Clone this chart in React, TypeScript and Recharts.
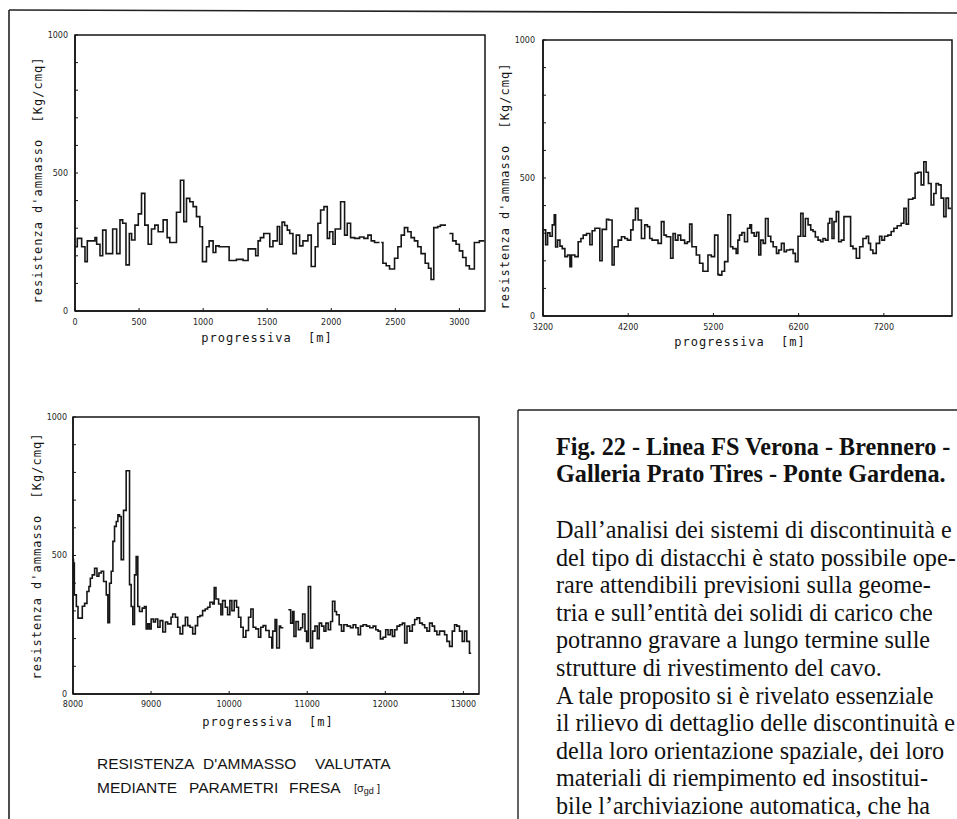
import React from 'react';
import { LineChart, Line, XAxis, YAxis, ReferenceArea } from 'recharts';

// ── Data (progressiva [m] where each step starts, resistenza [Kg/cmq]) ─────────

const prog1 = [
  0, 18, 52, 78, 96, 156, 169, 195, 216, 242,
  294, 325, 351, 372, 398, 424, 442, 468, 494, 519,
  545, 571, 597, 623, 649, 688, 719, 740, 792, 823,
  849, 870, 896, 922, 948, 974, 995, 1026, 1047, 1078,
  1099, 1125, 1203, 1260, 1312, 1351, 1410, 1429, 1447, 1473,
  1520, 1545, 1579, 1597, 1616, 1636, 1657, 1676, 1701, 1727,
  1753, 1779, 1818, 1844, 1875, 1896, 1917, 1943, 1969, 1987,
  2013, 2031, 2073, 2104, 2125, 2151, 2182, 2221, 2255, 2286,
  2312, 2338, 2377, 2378, 2390, 2403, 2429, 2455, 2494, 2520,
  2546, 2571, 2597, 2623, 2649, 2675, 2701, 2733, 2759, 2779,
  2800, 2831, 2852, 2896, 2897, 2922, 2948, 2974, 3000, 3026,
  3052, 3078, 3117, 3156, 3195,
];
const res1 = [
  233, 263, 233, 179, 254, 266, 242, 200, 293, 208,
  297, 208, 330, 318, 167, 281, 257, 311, 352, 426,
  311, 242, 297, 311, 287, 330, 266, 248, 358, 474,
  324, 408, 396, 378, 342, 305, 179, 233, 254, 212,
  236, 233, 183, 187, 183, 225, 200, 254, 266, 281,
  233, 254, 306, 242, 322, 310, 293, 281, 208, 275,
  236, 254, 275, 161, 233, 318, 366, 378, 263, 287,
  242, 297, 396, 275, 318, 266, 263, 268, 263, 275,
  254, 248, 248, null, 248, 173, 164, 152, 191, 233,
  275, 302, 287, 266, 254, 233, 208, 173, 155, 114,
  302, 306, 311, 311, null, 281, 254, 242, 218, 194,
  164, 152, 248, 254, 254,
];

const prog2 = [
  3200, 3231, 3254, 3282, 3309, 3332, 3348, 3371, 3399, 3426,
  3457, 3488, 3516, 3535, 3574, 3613, 3645, 3672, 3711, 3750,
  3777, 3809, 3867, 3894, 3945, 3972, 4011, 4035, 4082, 4121,
  4160, 4191, 4230, 4257, 4285, 4316, 4355, 4394, 4425, 4452,
  4480, 4550, 4589, 4620, 4648, 4698, 4726, 4753, 4784, 4816,
  4862, 4894, 4921, 4948, 4999, 5038, 5077, 5136, 5175, 5214,
  5253, 5272, 5299, 5331, 5370, 5401, 5428, 5467, 5487, 5506,
  5534, 5565, 5600, 5628, 5647, 5678, 5706, 5733, 5756, 5784,
  5811, 5842, 5873, 5901, 5940, 5967, 5998, 6030, 6057, 6096,
  6135, 6162, 6193, 6225, 6252, 6279, 6311, 6342, 6369, 6396,
  6428, 6459, 6486, 6514, 6545, 6564, 6592, 6615, 6642, 6670,
  6701, 6732, 6810, 6838, 6877, 6916, 6955, 6994, 7021, 7044,
  7072, 7111, 7150, 7177, 7208, 7247, 7286, 7318, 7357, 7403,
  7435, 7462, 7489, 7540, 7567, 7599, 7638, 7669, 7696, 7723,
  7755, 7786, 7813, 7841, 7872, 7903, 7930, 7958, 7990,
];
const res2 = [
  312, 258, 301, 289, 330, 367, 250, 275, 253, 244,
  215, 221, 179, 221, 215, 269, 281, 293, 299, 258,
  309, 318, 200, 314, 350, 348, 185, 251, 275, 287,
  281, 275, 312, 348, 390, 348, 281, 330, 324, 281,
  275, 263, 342, 293, 287, 209, 299, 275, 293, 275,
  263, 269, 333, 251, 221, 191, 162, 221, 215, 293,
  150, 148, 162, 197, 367, 251, 244, 227, 275, 293,
  302, 269, 318, 330, 301, 289, 303, 221, 275, 263,
  353, 289, 269, 251, 227, 239, 263, 233, 239, 241,
  227, 197, 289, 372, 289, 353, 330, 312, 306, 286,
  275, 269, 281, 275, 336, 353, 281, 342, 378, 269,
  275, 360, 253, 244, 209, 251, 281, 289, 263, 239,
  227, 263, 289, 275, 289, 293, 306, 318, 327, 336,
  390, 333, 423, 427, 517, 521, 475, 559, 521, 480,
  402, 444, 480, 475, 427, 360, 427, 390, 390,
];

const prog3 = [
  8000, 8006, 8012, 8017, 8043, 8064, 8119, 8149, 8179, 8204,
  8222, 8247, 8277, 8307, 8332, 8362, 8392, 8426, 8447, 8468,
  8490, 8511, 8532, 8554, 8575, 8596, 8617, 8647, 8681, 8724,
  8745, 8766, 8788, 8809, 8830, 8852, 8886, 8915, 8937, 8958,
  8979, 9001, 9030, 9056, 9086, 9115, 9150, 9184, 9213, 9256,
  9277, 9311, 9341, 9371, 9405, 9439, 9469, 9499, 9533, 9567,
  9596, 9626, 9660, 9694, 9724, 9754, 9788, 9809, 9831, 9865,
  9894, 9916, 9950, 9980, 10009, 10035, 10065, 10095, 10120, 10150,
  10180, 10214, 10248, 10278, 10307, 10341, 10376, 10405, 10435, 10469,
  10512, 10546, 10558, 10588, 10609, 10643, 10660, 10694, 10695, 10758,
  10788, 10813, 10830, 10856, 10886, 10916, 10941, 10971, 10992, 11014,
  11043, 11069, 11099, 11129, 11154, 11184, 11214, 11239, 11269, 11299,
  11324, 11354, 11375, 11409, 11439, 11469, 11512, 11554, 11588, 11622,
  11652, 11682, 11716, 11759, 11801, 11844, 11878, 11908, 11937, 11971,
  12005, 12035, 12065, 12091, 12120, 12150, 12184, 12218, 12248, 12278,
  12312, 12346, 12376, 12406, 12440, 12474, 12504, 12533, 12567, 12601,
  12631, 12661, 12695, 12759, 12789, 12823, 12857, 12887, 12916, 12950,
  12985, 13014, 13044, 13078, 13100,
];
const res3 = [
  485, 400, 473, 358, 316, 274, 317, 327, 370, 388,
  418, 430, 454, 425, 437, 443, 406, 358, 257, 400,
  443, 551, 605, 623, 647, 641, 485, 663, 806, 395,
  316, 251, 430, 496, 316, 298, 310, 316, 235, 253,
  235, 271, 260, 271, 241, 265, 224, 260, 253, 277,
  289, 277, 241, 217, 247, 277, 247, 241, 217, 247,
  279, 283, 301, 307, 313, 331, 325, 384, 343, 325,
  286, 337, 313, 286, 337, 301, 337, 313, 277, 241,
  205, 229, 277, 307, 241, 235, 205, 241, 247, 229,
  205, 166, 227, 269, 166, 245, 239, 239, null, 304,
  256, 298, 208, 262, 232, 239, 289, 227, 190, 388,
  166, 227, 245, 200, 256, 245, 227, 256, 232, 262,
  335, 298, 286, 250, 227, 250, 245, 239, 250, 239,
  214, 245, 250, 245, 239, 245, 232, 227, 199, 205,
  232, 214, 232, 208, 232, 245, 250, 256, 184, 245,
  227, 250, 269, 275, 256, 250, 239, 227, 256, 245,
  227, 214, 227, 214, 190, 172, 227, 250, 245, 227,
  190, 227, 190, 147, 147,
];

const yTicks = [0, 100, 200, 300, 400, 500, 600, 700, 800, 900, 1000];
const xTicks1 = [0, 500, 1000, 1500, 2000, 2500, 3000];
const xTicks2 = [3200, 4200, 5200, 6200, 7200];
const xTicks3 = [8000, 9000, 10000, 11000, 12000, 13000];

const yTitle = "resistenza d'ammasso\u00a0 [Kg/cmq]";
const xTitle = 'progressiva\u00a0 [m]';

const titleLines = [
  'Fig. 22 - Linea FS Verona - Brennero -',
  'Galleria Prato Tires - Ponte Gardena.',
];
const bodyLines = [
  "Dall\u2019analisi dei sistemi di discontinuità e",
  'del tipo di distacchi è stato possibile ope-',
  'rare attendibili previsioni sulla geome-',
  "tria e sull\u2019entità dei solidi di carico che",
  'potranno gravare a lungo termine sulle',
  'strutture di rivestimento del cavo.',
  'A tale proposito si è rivelato essenziale',
  'il rilievo di dettaglio delle discontinuità e',
  'della loro orientazione spaziale, dei loro',
  'materiali di riempimento ed insostitui-',
  "bile l\u2019archiviazione automatica, che ha",
];

// ── Helpers ────────────────────────────────────────────────────────────────────

const zip = (xs: number[], vs: (number | null)[]) => xs.map((x, i) => ({ x, v: vs[i] }));

const INK = '#141414';
const tickFont = { fontSize: 8, fill: '#1e1e1e', fontFamily: 'DejaVu Sans' };
const monoFont = { fontFamily: 'DejaVu Sans Mono', fontSize: 12, letterSpacing: 1, fill: INK, whiteSpace: 'pre' as const };

interface ProfileProps {
  rows: { x: number; v: number | null }[];
  domain: [number, number];
  xTicks: number[];
  left: number;
  top: number;
  width: number;
  height: number;
  marginTop: number;
  marginRight: number;
  yWidth: number;
  xHeight: number;
  yTickMargin: number;
  xTickMargin: number;
}

function Profile(p: ProfileProps) {
  return (
    <div style={{ position: 'absolute', left: p.left, top: p.top }}>
      <LineChart
        width={p.width}
        height={p.height}
        data={p.rows}
        margin={{ top: p.marginTop, right: p.marginRight, bottom: 0, left: 0 }}
      >
        <XAxis
          dataKey="x"
          type="number"
          domain={p.domain}
          ticks={p.xTicks}
          interval={0}
          allowDataOverflow
          height={p.xHeight}
          tick={tickFont}
          tickSize={-3}
          tickMargin={p.xTickMargin}
          axisLine={{ stroke: INK, strokeWidth: 1.5 }}
          tickLine={{ stroke: INK, strokeWidth: 1 }}
        />
        <YAxis
          type="number"
          domain={[0, 1000]}
          ticks={yTicks}
          interval={0}
          width={p.yWidth}
          tick={tickFont}
          tickSize={-3}
          tickMargin={p.yTickMargin}
          tickFormatter={(v: number) => (v % 500 === 0 ? String(v) : '')}
          axisLine={{ stroke: INK, strokeWidth: 1.5 }}
          tickLine={{ stroke: INK, strokeWidth: 1 }}
        />
        <ReferenceArea
          x1={p.domain[0]}
          x2={p.domain[1]}
          y1={0}
          y2={1000}
          fill="none"
          fillOpacity={0}
          stroke={INK}
          strokeWidth={1.5}
        />
        <Line
          type="stepAfter"
          dataKey="v"
          stroke="#161616"
          strokeWidth={1.6}
          dot={false}
          connectNulls={false}
          isAnimationActive={false}
        />
      </LineChart>
    </div>
  );
}

// ── Page ───────────────────────────────────────────────────────────────────────

export default function App() {
  return (
    <div
      style={{
        position: 'absolute',
        left: 0,
        top: 0,
        width: 957,
        height: 819,
        overflow: 'hidden',
        background: '#ffffff',
      }}
    >
      <Profile
        rows={zip(prog1, res1)}
        domain={[0, 3200]}
        xTicks={xTicks1}
        left={0}
        top={0}
        width={490}
        height={350}
        marginTop={35}
        marginRight={5}
        yWidth={75}
        xHeight={39}
        yTickMargin={10}
        xTickMargin={11}
      />
      <Profile
        rows={zip(prog2, res2)}
        domain={[3200, 8000]}
        xTicks={xTicks2}
        left={490}
        top={0}
        width={465}
        height={355}
        marginTop={40}
        marginRight={3}
        yWidth={53}
        xHeight={39}
        yTickMargin={11}
        xTickMargin={11}
      />
      <Profile
        rows={zip(prog3, res3)}
        domain={[8000, 13200]}
        xTicks={xTicks3}
        left={0}
        top={380}
        width={484}
        height={355}
        marginTop={37}
        marginRight={5}
        yWidth={73}
        xHeight={41}
        yTickMargin={9}
        xTickMargin={10}
      />

      <svg
        width={957}
        height={819}
        style={{ position: 'absolute', left: 0, top: 0, pointerEvents: 'none' }}
      >
        {/* page frame and text box */}
        <line x1={9} y1={10} x2={957} y2={13} stroke="#222" strokeWidth={1.6} />
        <line x1={9} y1={10} x2={9} y2={819} stroke="#222" strokeWidth={1.6} />
        <line x1={518} y1={410} x2={957} y2={410} stroke="#222" strokeWidth={1.4} />
        <line x1={518} y1={410} x2={518} y2={819} stroke="#222" strokeWidth={1.4} />

        {/* axis titles */}
        <text x={38} y={180} textAnchor="middle" dominantBaseline="central" transform="rotate(-90 38 180)" style={monoFont}>{yTitle}</text>
        <text x={505} y={186} textAnchor="middle" dominantBaseline="central" transform="rotate(-90 505 186)" style={monoFont}>{yTitle}</text>
        <text x={37} y={556} textAnchor="middle" dominantBaseline="central" transform="rotate(-90 37 556)" style={monoFont}>{yTitle}</text>
        <text x={267} y={342} textAnchor="middle" style={monoFont}>{xTitle}</text>
        <text x={740} y={346} textAnchor="middle" style={monoFont}>{xTitle}</text>
        <text x={268} y={726} textAnchor="middle" style={monoFont}>{xTitle}</text>

        {/* caption */}
        <g style={{ fontFamily: 'Liberation Sans', fontSize: 15.5, fill: INK }}>
          <text x={97} y={769}>RESISTENZA</text>
          <text x={203} y={769}>D&apos;AMMASSO</text>
          <text x={315} y={769}>VALUTATA</text>
          <text x={97} y={793}>MEDIANTE</text>
          <text x={189} y={793}>PARAMETRI</text>
          <text x={289} y={793}>FRESA</text>
          <text x={354} y={792} style={{ fontSize: 11 }}>
            [σ<tspan fontSize={9} dy={2}>gd</tspan><tspan dy={-2}> ]</tspan>
          </text>
        </g>

        {/* figure text */}
        <g style={{ fontFamily: 'Liberation Serif', fontSize: 24.2, fill: '#111' }}>
          {titleLines.map((line, i) => (
            <text key={i} x={556} y={455 + i * 27} fontWeight="bold">{line}</text>
          ))}
          {bodyLines.map((line, i) => (
            <text key={i} x={556} y={538 + i * 27.6}>{line}</text>
          ))}
        </g>
      </svg>
    </div>
  );
}
